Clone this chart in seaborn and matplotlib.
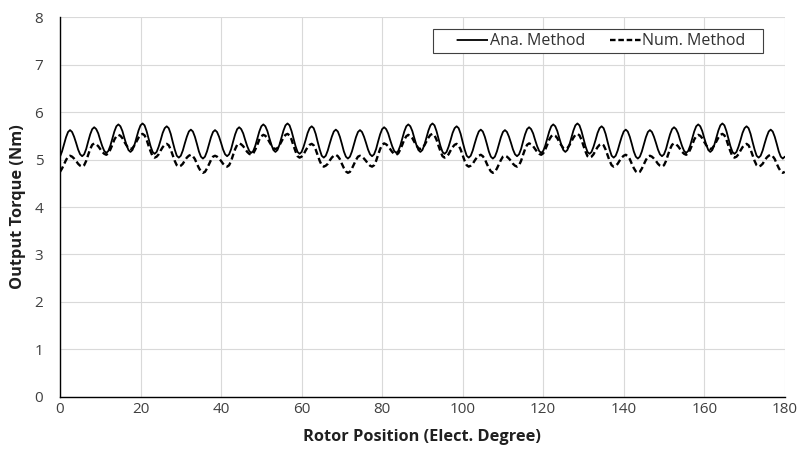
import numpy as np
import pandas as pd
import matplotlib
matplotlib.use("Agg")
import matplotlib.pyplot as plt
from matplotlib.lines import Line2D
from matplotlib.patches import Rectangle
import seaborn as sns

# Rotor position sampled every 0.5 electrical degree, 0..180
step = 0.5
rotor_pos = np.arange(0, 180 + step, step)

# Output torque (Nm), analytical model — one 6-degree ripple period per row
ana_torque = [
    5.06, 5.17, 5.32, 5.47, 5.58, 5.62, 5.58, 5.48, 5.35, 5.21, 5.11, 5.07,
    5.11, 5.22, 5.38, 5.53, 5.64, 5.68, 5.64, 5.55, 5.41, 5.28, 5.18, 5.14,
    5.18, 5.29, 5.44, 5.59, 5.70, 5.74, 5.70, 5.60, 5.45, 5.31, 5.20, 5.16,
    5.20, 5.31, 5.46, 5.61, 5.72, 5.76, 5.72, 5.60, 5.44, 5.28, 5.16, 5.12,
    5.16, 5.27, 5.41, 5.56, 5.66, 5.70, 5.66, 5.54, 5.37, 5.21, 5.08, 5.04,
    5.08, 5.19, 5.34, 5.48, 5.59, 5.63, 5.59, 5.48, 5.33, 5.17, 5.06, 5.02,
    5.06, 5.17, 5.32, 5.47, 5.58, 5.62, 5.58, 5.48, 5.35, 5.21, 5.11, 5.07,
    5.11, 5.22, 5.38, 5.53, 5.64, 5.68, 5.64, 5.55, 5.41, 5.28, 5.18, 5.14,
    5.18, 5.29, 5.44, 5.59, 5.70, 5.74, 5.70, 5.60, 5.45, 5.31, 5.20, 5.16,
    5.20, 5.31, 5.46, 5.61, 5.72, 5.76, 5.72, 5.60, 5.44, 5.28, 5.16, 5.12,
    5.16, 5.27, 5.41, 5.56, 5.66, 5.70, 5.66, 5.54, 5.37, 5.21, 5.08, 5.04,
    5.08, 5.19, 5.34, 5.48, 5.59, 5.63, 5.59, 5.48, 5.33, 5.17, 5.06, 5.02,
    5.06, 5.17, 5.32, 5.47, 5.58, 5.62, 5.58, 5.48, 5.35, 5.21, 5.11, 5.07,
    5.11, 5.22, 5.38, 5.53, 5.64, 5.68, 5.64, 5.55, 5.41, 5.28, 5.18, 5.14,
    5.18, 5.29, 5.44, 5.59, 5.70, 5.74, 5.70, 5.60, 5.45, 5.31, 5.20, 5.16,
    5.20, 5.31, 5.46, 5.61, 5.72, 5.76, 5.72, 5.60, 5.44, 5.28, 5.16, 5.12,
    5.16, 5.27, 5.41, 5.56, 5.66, 5.70, 5.66, 5.54, 5.37, 5.21, 5.08, 5.04,
    5.08, 5.19, 5.34, 5.48, 5.59, 5.63, 5.59, 5.48, 5.33, 5.17, 5.06, 5.02,
    5.06, 5.17, 5.32, 5.47, 5.58, 5.62, 5.58, 5.48, 5.35, 5.21, 5.11, 5.07,
    5.11, 5.22, 5.38, 5.53, 5.64, 5.68, 5.64, 5.55, 5.41, 5.28, 5.18, 5.14,
    5.18, 5.29, 5.44, 5.59, 5.70, 5.74, 5.70, 5.60, 5.45, 5.31, 5.20, 5.16,
    5.20, 5.31, 5.46, 5.61, 5.72, 5.76, 5.72, 5.60, 5.44, 5.28, 5.16, 5.12,
    5.16, 5.27, 5.41, 5.56, 5.66, 5.70, 5.66, 5.54, 5.37, 5.21, 5.08, 5.04,
    5.08, 5.19, 5.34, 5.48, 5.59, 5.63, 5.59, 5.48, 5.33, 5.17, 5.06, 5.02,
    5.06, 5.17, 5.32, 5.47, 5.58, 5.62, 5.58, 5.48, 5.35, 5.21, 5.11, 5.07,
    5.11, 5.22, 5.38, 5.53, 5.64, 5.68, 5.64, 5.55, 5.41, 5.28, 5.18, 5.14,
    5.18, 5.29, 5.44, 5.59, 5.70, 5.74, 5.70, 5.60, 5.45, 5.31, 5.20, 5.16,
    5.20, 5.31, 5.46, 5.61, 5.72, 5.76, 5.72, 5.60, 5.44, 5.28, 5.16, 5.12,
    5.16, 5.27, 5.41, 5.56, 5.66, 5.70, 5.66, 5.54, 5.37, 5.21, 5.08, 5.04,
    5.08, 5.19, 5.34, 5.48, 5.59, 5.63, 5.59, 5.48, 5.33, 5.17, 5.06, 5.02,
    5.06,
]

# Output torque (Nm), numerical (FEA) model
num_torque = [
    4.74, 4.81, 4.90, 4.99, 5.06, 5.08, 5.06, 5.02, 4.97, 4.91, 4.87, 4.85,
    4.88, 4.97, 5.10, 5.22, 5.31, 5.34, 5.32, 5.28, 5.22, 5.16, 5.12, 5.10,
    5.13, 5.21, 5.31, 5.42, 5.49, 5.52, 5.50, 5.45, 5.37, 5.30, 5.24, 5.22,
    5.24, 5.30, 5.38, 5.46, 5.52, 5.54, 5.51, 5.42, 5.29, 5.17, 5.07, 5.04,
    5.06, 5.11, 5.19, 5.26, 5.31, 5.33, 5.30, 5.21, 5.09, 4.97, 4.88, 4.85,
    4.87, 4.91, 4.98, 5.04, 5.08, 5.10, 5.07, 5.01, 4.91, 4.82, 4.75, 4.72,
    4.74, 4.81, 4.90, 4.99, 5.06, 5.08, 5.06, 5.02, 4.97, 4.91, 4.87, 4.85,
    4.88, 4.97, 5.10, 5.22, 5.31, 5.34, 5.32, 5.28, 5.22, 5.16, 5.12, 5.10,
    5.13, 5.21, 5.31, 5.42, 5.49, 5.52, 5.50, 5.45, 5.37, 5.30, 5.24, 5.22,
    5.24, 5.30, 5.38, 5.46, 5.52, 5.54, 5.51, 5.42, 5.29, 5.17, 5.07, 5.04,
    5.06, 5.11, 5.19, 5.26, 5.31, 5.33, 5.30, 5.21, 5.09, 4.97, 4.88, 4.85,
    4.87, 4.91, 4.98, 5.04, 5.08, 5.10, 5.07, 5.01, 4.91, 4.82, 4.75, 4.72,
    4.74, 4.81, 4.90, 4.99, 5.06, 5.08, 5.06, 5.02, 4.97, 4.91, 4.87, 4.85,
    4.88, 4.97, 5.10, 5.22, 5.31, 5.34, 5.32, 5.28, 5.22, 5.16, 5.12, 5.10,
    5.13, 5.21, 5.31, 5.42, 5.49, 5.52, 5.50, 5.45, 5.37, 5.30, 5.24, 5.22,
    5.24, 5.30, 5.38, 5.46, 5.52, 5.54, 5.51, 5.42, 5.29, 5.17, 5.07, 5.04,
    5.06, 5.11, 5.19, 5.26, 5.31, 5.33, 5.30, 5.21, 5.09, 4.97, 4.88, 4.85,
    4.87, 4.91, 4.98, 5.04, 5.08, 5.10, 5.07, 5.01, 4.91, 4.82, 4.75, 4.72,
    4.74, 4.81, 4.90, 4.99, 5.06, 5.08, 5.06, 5.02, 4.97, 4.91, 4.87, 4.85,
    4.88, 4.97, 5.10, 5.22, 5.31, 5.34, 5.32, 5.28, 5.22, 5.16, 5.12, 5.10,
    5.13, 5.21, 5.31, 5.42, 5.49, 5.52, 5.50, 5.45, 5.37, 5.30, 5.24, 5.22,
    5.24, 5.30, 5.38, 5.46, 5.52, 5.54, 5.51, 5.42, 5.29, 5.17, 5.07, 5.04,
    5.06, 5.11, 5.19, 5.26, 5.31, 5.33, 5.30, 5.21, 5.09, 4.97, 4.88, 4.85,
    4.87, 4.91, 4.98, 5.04, 5.08, 5.10, 5.07, 5.01, 4.91, 4.82, 4.75, 4.72,
    4.74, 4.81, 4.90, 4.99, 5.06, 5.08, 5.06, 5.02, 4.97, 4.91, 4.87, 4.85,
    4.88, 4.97, 5.10, 5.22, 5.31, 5.34, 5.32, 5.28, 5.22, 5.16, 5.12, 5.10,
    5.13, 5.21, 5.31, 5.42, 5.49, 5.52, 5.50, 5.45, 5.37, 5.30, 5.24, 5.22,
    5.24, 5.30, 5.38, 5.46, 5.52, 5.54, 5.51, 5.42, 5.29, 5.17, 5.07, 5.04,
    5.06, 5.11, 5.19, 5.26, 5.31, 5.33, 5.30, 5.21, 5.09, 4.97, 4.88, 4.85,
    4.87, 4.91, 4.98, 5.04, 5.08, 5.10, 5.07, 5.01, 4.91, 4.82, 4.75, 4.72,
    4.74,
]

series_names = ["Ana. Method", "Num. Method"]
x_ticks = [0, 20, 40, 60, 80, 100, 120, 140, 160, 180]
y_ticks = [0, 1, 2, 3, 4, 5, 6, 7, 8]

df = pd.DataFrame({
    "pos": np.concatenate([rotor_pos, rotor_pos]),
    "torque": ana_torque + num_torque,
    "method": [series_names[0]] * len(ana_torque) + [series_names[1]] * len(num_torque),
})

sns.set_theme(style="white")
plt.rcParams["font.family"] = ["Open Sans", "DejaVu Sans"]

fig = plt.figure(figsize=(8, 4.5), dpi=100)
ax = fig.add_axes([0.075, 0.118, 0.906, 0.844])

LW_SOLID, LW_DASH = 1.3, 1.7
DASH = (2.6, 1.4)

sns.lineplot(data=df[df["method"] == series_names[0]], x="pos", y="torque",
             color="black", linewidth=LW_SOLID, estimator=None, sort=False,
             legend=False, ax=ax)
sns.lineplot(data=df[df["method"] == series_names[1]], x="pos", y="torque",
             color="black", linewidth=LW_DASH, estimator=None, sort=False,
             legend=False, ax=ax)
ax.lines[1].set_dashes(DASH)

ax.set_xlim(0, 180)
ax.set_ylim(0, 8)
ax.set_xticks(x_ticks)
ax.set_yticks(y_ticks)
ax.grid(True, color="#d9d9d9", linewidth=0.8)
ax.set_axisbelow(True)

for side in ("top", "right"):
    ax.spines[side].set_visible(False)
for side in ("left", "bottom"):
    ax.spines[side].set_color("black")
    ax.spines[side].set_linewidth(1.0)

ax.tick_params(axis="both", length=0, labelsize=11, colors="#404040")
ax.tick_params(axis="x", pad=4)
ax.tick_params(axis="y", pad=12)
ax.set_xlabel("Rotor Position (Elect. Degree)", fontsize=11.8, fontweight="bold",
              color="#202020", labelpad=8)
ax.set_ylabel("Output Torque (Nm)", fontsize=11.8, fontweight="bold",
              color="#202020", labelpad=6)

# Legend frame (axes fraction), drawn as a plain box
box_x0, box_x1 = 0.5145, 0.9697
box_y0, box_y1 = 0.9045, 0.9676
ax.add_patch(Rectangle((box_x0, box_y0), box_x1 - box_x0, box_y1 - box_y0,
                       transform=ax.transAxes, facecolor="white",
                       edgecolor="#404040", linewidth=0.8, zorder=4))

# Legend handles: a blank lead-in followed by the line sample (lengths in pt)
lead, sample = 17.0, 23.0
solid_style = (sample / LW_SOLID, (sample / LW_SOLID, lead / LW_SOLID))
dash_seq = [4.0, 2.0, 4.0, 2.0, 4.0, 2.0, 4.0, lead + 1.0]
dash_style = (22.0 / LW_DASH, tuple(v / LW_DASH for v in dash_seq))
handles = [
    Line2D([], [], color="black", linewidth=LW_SOLID, linestyle=solid_style),
    Line2D([], [], color="black", linewidth=LW_DASH, linestyle=dash_style),
]
leg_fs = 11.5
leg = ax.legend(handles, series_names, loc="center left",
                bbox_to_anchor=(box_x0, (box_y0 + box_y1) / 2), ncol=2,
                frameon=False, fontsize=leg_fs,
                handlelength=(lead + sample) / leg_fs, handletextpad=0.1,
                columnspacing=0.0, borderpad=0.0, borderaxespad=0)
leg.set_zorder(5)
for t in leg.get_texts():
    t.set_color("#303030")

fig.savefig("out.png", dpi=100)
